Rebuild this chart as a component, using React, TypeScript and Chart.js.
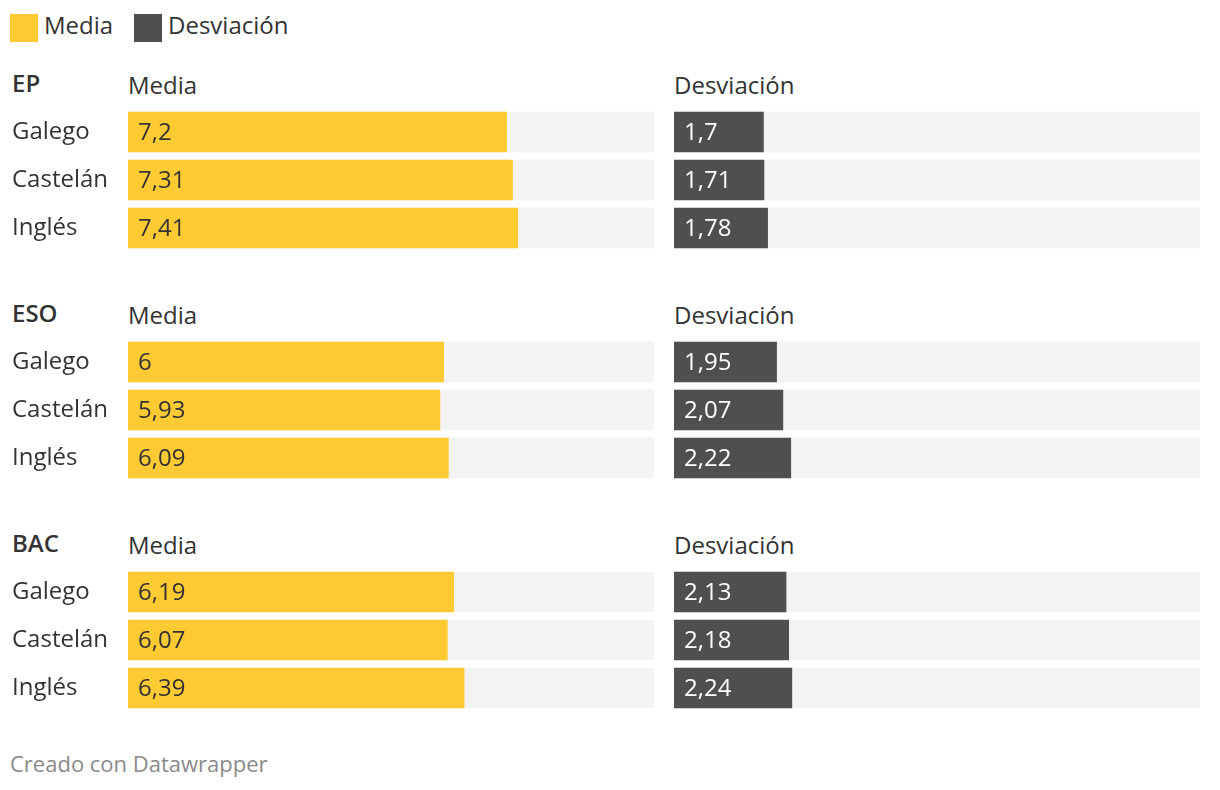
import React, { useEffect, useRef } from "react";
import { Chart, registerables } from "chart.js";

Chart.register(...registerables);

const groups = ["EP", "ESO", "BAC"];
const categories = ["Galego", "Castelán", "Inglés"];
const mediaEP = [7.2, 7.31, 7.41];
const mediaESO = [6, 5.93, 6.09];
const mediaBAC = [6.19, 6.07, 6.39];
const desvEP = [1.7, 1.71, 1.78];
const desvESO = [1.95, 2.07, 2.22];
const desvBAC = [2.13, 2.18, 2.24];
const mediaByGroup = [mediaEP, mediaESO, mediaBAC];
const desvByGroup = [desvEP, desvESO, desvBAC];
const seriesNames = ["Media", "Desviación"];
const scaleMax = 10;

const YELLOW = "#ffca32";
const DARK = "#4f4f4f";
const TRACK = "#f3f3f3";
const TEXT = "#333333";
const FONT = "'Open Sans', 'Noto Sans', sans-serif";

const fmt = (v: number) => String(v).replace(".", ",");

const valueLabels = {
  id: "valueLabels",
  afterDatasetsDraw(chart: any, _args: any, opts: any) {
    const ctx = chart.ctx;
    const meta = chart.getDatasetMeta(0);
    const data = chart.data.datasets[0].data as number[];
    ctx.save();
    ctx.font = `400 24px ${FONT}`;
    ctx.fillStyle = opts.color;
    ctx.textAlign = "left";
    ctx.textBaseline = "middle";
    meta.data.forEach((el: any, i: number) => {
      ctx.fillText(fmt(data[i]), el.base + 10, el.y + 1);
    });
    ctx.restore();
  },
};

function Panel(props: {
  values: number[];
  color: string;
  labelColor: string;
  showCategories: boolean;
  left: number;
  top: number;
  width: number;
}) {
  const ref = useRef<HTMLCanvasElement | null>(null);
  useEffect(() => {
    if (!ref.current) return;
    const show = props.showCategories;
    const chart = new Chart(ref.current, {
      type: "bar",
      data: {
        labels: categories,
        datasets: [
          {
            data: props.values,
            backgroundColor: props.color,
            barThickness: 40,
            grouped: false,
            borderWidth: 0,
          },
          {
            data: categories.map(() => scaleMax),
            backgroundColor: TRACK,
            barThickness: 40,
            grouped: false,
            borderWidth: 0,
          },
        ],
      },
      options: {
        indexAxis: "y",
        animation: false,
        responsive: false,
        maintainAspectRatio: false,
        layout: { padding: { left: show ? 12 : 0, right: 0, top: 0, bottom: 0 } },
        plugins: {
          legend: { display: false },
          tooltip: { enabled: false },
          valueLabels: { color: props.labelColor },
        } as any,
        scales: {
          x: { display: false, min: 0, max: scaleMax },
          y: {
            display: show,
            grid: { display: false },
            border: { display: false },
            ticks: {
              color: TEXT,
              font: { family: FONT, size: 24 },
              crossAlign: "far",
              padding: 0,
            },
            afterFit: (s: any) => {
              if (show) s.width = 116;
              s.paddingTop = 0;
              s.paddingBottom = 0;
            },
          },
        },
      },
      plugins: [valueLabels],
    } as any);
    return () => chart.destroy();
  }, []);
  return (
    <canvas
      ref={ref}
      width={props.width}
      height={144}
      style={{ position: "absolute", left: props.left, top: props.top, width: props.width, height: 144 }}
    />
  );
}

const txt = (
  content: string,
  left: number,
  top: number,
  size: number,
  color: string,
  weight = 400
) => (
  <div
    key={content + left + top}
    style={{
      position: "absolute",
      left,
      top,
      fontSize: size,
      lineHeight: `${size}px`,
      fontFamily: FONT,
      fontWeight: weight,
      color,
      whiteSpace: "nowrap",
    }}
  >
    {content}
  </div>
);

export default function App() {
  return (
    <div
      style={{
        position: "fixed",
        left: 0,
        top: 0,
        width: 1220,
        height: 790,
        background: "#ffffff",
        overflow: "hidden",
      }}
    >
      <div style={{ position: "absolute", left: 10, top: 14, width: 28, height: 28, background: YELLOW }} />
      {txt(seriesNames[0], 44, 13, 24, TEXT)}
      <div style={{ position: "absolute", left: 134, top: 14, width: 28, height: 28, background: DARK }} />
      {txt(seriesNames[1], 168, 13, 24, TEXT)}

      {groups.map((g, gi) => {
        const off = gi * 230;
        return (
          <React.Fragment key={g}>
            {txt(g, 12, 71 + off, 24, TEXT, 600)}
            {txt(seriesNames[0], 128, 73 + off, 24, TEXT)}
            {txt(seriesNames[1], 674, 73 + off, 24, TEXT)}
            <Panel
              values={mediaByGroup[gi]}
              color={YELLOW}
              labelColor={TEXT}
              showCategories={true}
              left={0}
              top={108 + off}
              width={654}
            />
            <Panel
              values={desvByGroup[gi]}
              color={DARK}
              labelColor="#ffffff"
              showCategories={false}
              left={674}
              top={108 + off}
              width={526}
            />
          </React.Fragment>
        );
      })}

      {txt("Creado con Datawrapper", 10, 752, 22, "#8a8a8a")}
    </div>
  );
}
